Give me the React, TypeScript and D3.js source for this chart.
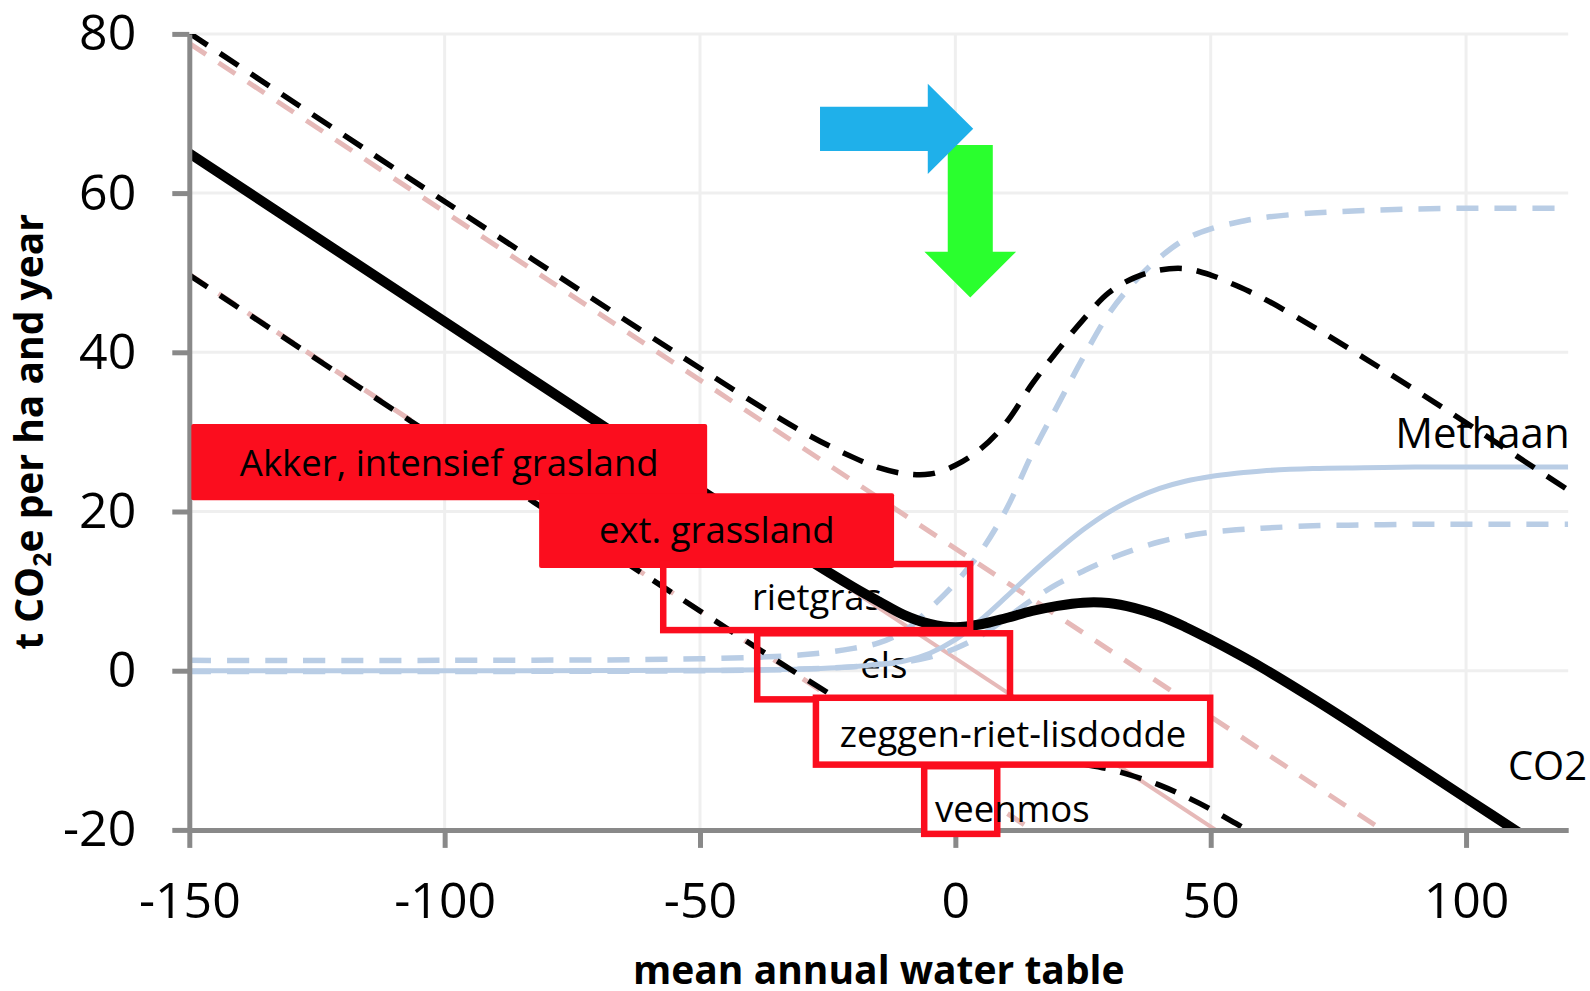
import React, { useEffect, useRef } from 'react';
import * as d3 from 'd3';

// water table positions (cm) at which the curves were read
const waterTable = [-150, -100, -50, -30, -20, -15, -10, -5, 0, 5, 10, 15, 20, 25, 30, 35, 40, 45, 50, 55, 60, 70, 80, 90, 100, 110, 120];

// methane (light blue)
const methaneMean = [0, 0, 0.05, 0.2, 0.5, 0.8, 1.2, 2.2, 3.9, 6.4, 9.3, 12.3, 15.1, 17.7, 19.9, 21.6, 22.9, 23.8, 24.4, 24.8, 25.1, 25.4, 25.5, 25.6, 25.6, 25.6, 25.6];
const methaneHigh = [1.3, 1.3, 1.5, 2.0, 2.8, 3.5, 5.0, 7.8, 11.0, 15.0, 20.3, 27.2, 33.3, 39.3, 44.8, 48.8, 51.9, 54.2, 55.5, 56.3, 56.9, 57.5, 57.8, 58.0, 58.1, 58.1, 58.1];
const methaneLow = [-0.1, -0.1, 0, 0.2, 0.5, 0.8, 1.1, 1.7, 2.8, 4.4, 6.6, 8.9, 10.9, 12.5, 14.0, 15.2, 16.2, 16.9, 17.4, 17.7, 17.9, 18.2, 18.3, 18.4, 18.4, 18.4, 18.4];

// total emissions (black)
const totalMean = [65.0, 43.85, 22.75, 14.44, 10.51, 8.7, 6.98, 5.87, 5.45, 5.83, 6.62, 7.5, 8.15, 8.55, 8.5, 7.9, 6.9, 5.5, 3.9, 2.2, 0.4, -3.5, -7.6, -11.8, -16.0, -20.2, -24.4];
const totalHigh = [80.1, 58.95, 38.0, 30.04, 26.8, 25.5, 24.75, 24.7, 25.8, 27.9, 31.2, 36.0, 40.19, 44.08, 47.46, 49.35, 50.33, 50.51, 49.7, 48.38, 46.87, 43.24, 39.31, 35.28, 31.15, 26.92, 22.69];
const totalLow = [49.7, 28.55, 7.5, -0.76, -4.69, -6.5, -8.32, -9.83, -10.85, -11.37, -11.28, -11.1, -11.21, -11.73, -12.34, -13.26, -14.37, -15.79, -17.4, -19.22, -21.13, -25.06, -29.19, -33.32, -37.55, -41.78, -46.01];

// CO2 (pink), straight lines
const co2Ends = [-150, 120];
const co2Mean = [65.0, -49.2];
const co2High = [78.8, -35.4];
const co2Low = [49.8, -64.4];

const xTicks = [-150, -100, -50, 0, 50, 100];
const yTicks = [-20, 0, 20, 40, 60, 80];

const habitats = ['Akker, intensief grasland', 'ext. grassland', 'rietgras', 'els', 'zeggen-riet-lisdodde', 'veenmos'];

const W = 1590;
const H = 991;
const RED = '#fb0d1e';
const PINK = '#e6b9b8';
const BLUE = '#b9cde5';
const GREY = '#898989';
const FONT = "'Open Sans', sans-serif";

export default function App() {
    const svgRef = useRef<SVGSVGElement>(null);

    useEffect(() => {
        if (!svgRef.current) return;
        const svg = d3.select(svgRef.current);
        svg.selectAll('*').remove();

        const x = d3.scaleLinear().domain([-150, 120]).range([189.3, 1568.2]);
        const y = d3.scaleLinear().domain([-20, 80]).range([829.9, 33.9]);

        svg.append('rect').attr('width', W).attr('height', H).attr('fill', '#fff');

        svg.append('defs').append('clipPath').attr('id', 'plot')
            .append('rect')
            .attr('x', x(-150)).attr('y', y(80))
            .attr('width', x(120) - x(-150)).attr('height', y(-20) - y(80));

        // gridlines
        const grid = svg.append('g').attr('stroke', '#efefef').attr('stroke-width', 3);
        grid.selectAll('line.h').data(yTicks.filter(d => d > -20)).join('line')
            .attr('class', 'h')
            .attr('x1', x(-150)).attr('x2', x(120))
            .attr('y1', d => y(d)).attr('y2', d => y(d));
        grid.selectAll('line.v').data(xTicks.filter(d => d > -150)).join('line')
            .attr('class', 'v')
            .attr('x1', d => x(d)).attr('x2', d => x(d))
            .attr('y1', y(80)).attr('y2', y(-20));

        // annotation boxes (data units); kind: filled red, see-through outline, or white outline
        const boxes = [
            { i: 0, x0: -149.6, x1: -48.6, y0: 31.0, y1: 21.4, kind: 'fill', tx: -99.1, ty: 24.46, anchor: 'middle' },
            { i: 1, x0: -81.5, x1: -12.0, y0: 22.3, y1: 12.9, kind: 'fill', tx: -46.7, ty: 16.04, anchor: 'middle' },
            { i: 2, x0: -57.2, x1: 2.9, y0: 13.4, y1: 5.1, kind: 'open', tx: -27.1, ty: 7.63, anchor: 'middle' },
            { i: 3, x0: -38.8, x1: 10.7, y0: 4.7, y1: -3.6, kind: 'open', tx: -14.0, ty: -0.92, anchor: 'middle' },
            { i: 4, x0: -27.3, x1: 49.9, y0: -3.4, y1: -11.8, kind: 'white', tx: 11.3, ty: -9.6, anchor: 'middle' },
            { i: 5, x0: -6.1, x1: 8.2, y0: -12.0, y1: -20.5, kind: 'white', tx: -4.0, ty: -19.0, anchor: 'start' },
        ];
        const open = boxes.filter(b => b.kind === 'open');
        const white = boxes.filter(b => b.kind === 'white');
        const filled = boxes.filter(b => b.kind === 'fill');

        // labels that sit under the curves
        svg.append('g').selectAll('text').data(open).join('text')
            .attr('x', b => x(b.tx)).attr('y', b => y(b.ty))
            .attr('text-anchor', b => b.anchor)
            .attr('font-family', FONT).attr('font-size', 36.5).attr('fill', '#000')
            .text(b => habitats[b.i]);

        svg.append('text').attr('x', x(120.3)).attr('y', y(27.98))
            .attr('text-anchor', 'end').attr('font-family', FONT).attr('font-size', 42)
            .text('Methaan');
        svg.append('text').attr('x', x(108.2)).attr('y', y(-13.73))
            .attr('font-family', FONT).attr('font-size', 40)
            .text('CO2');

        // curves
        const plot = svg.append('g').attr('clip-path', 'url(#plot)').attr('fill', 'none');
        const curve = d3.line<number>()
            .x((_, i) => x(waterTable[i]))
            .y(d => y(d))
            .curve(d3.curveCatmullRom.alpha(0.5));
        const straight = d3.line<number>()
            .x((_, i) => x(co2Ends[i]))
            .y(d => y(d));

        plot.append('path').attr('d', straight(co2Low)).attr('stroke', PINK).attr('stroke-width', 5).attr('stroke-dasharray', '20 15');
        plot.append('path').attr('d', straight(co2High)).attr('stroke', PINK).attr('stroke-width', 5).attr('stroke-dasharray', '20 15');
        plot.append('path').attr('d', straight(co2Mean)).attr('stroke', PINK).attr('stroke-width', 4);

        plot.append('path').attr('d', curve(methaneLow)).attr('stroke', BLUE).attr('stroke-width', 5.5).attr('stroke-dasharray', '22 16');
        plot.append('path').attr('d', curve(methaneHigh)).attr('stroke', BLUE).attr('stroke-width', 5.5).attr('stroke-dasharray', '22 16');
        plot.append('path').attr('d', curve(methaneMean)).attr('stroke', BLUE).attr('stroke-width', 5);

        plot.append('path').attr('d', curve(totalLow)).attr('stroke', '#000').attr('stroke-width', 5.5).attr('stroke-dasharray', '22 15');
        plot.append('path').attr('d', curve(totalHigh)).attr('stroke', '#000').attr('stroke-width', 5.5).attr('stroke-dasharray', '22 15');
        plot.append('path').attr('d', curve(totalMean)).attr('stroke', '#000').attr('stroke-width', 10);

        // axes
        const yAxis = svg.append('g')
            .attr('transform', `translate(${x(-150)},0)`)
            .call(d3.axisLeft(y).tickValues(yTicks).tickSize(17).tickSizeOuter(0).tickPadding(36).tickFormat(d => String(d)));
        const xAxis = svg.append('g')
            .attr('transform', `translate(0,${y(-20)})`)
            .call(d3.axisBottom(x).tickValues(xTicks).tickSize(18).tickSizeOuter(0).tickPadding(35).tickFormat(d => String(d)));
        [yAxis, xAxis].forEach(a => {
            a.attr('font-family', FONT).attr('font-size', 50);
            a.select('.domain').attr('stroke', GREY).attr('stroke-width', 5);
            a.selectAll('.tick line').attr('stroke', GREY).attr('stroke-width', 5);
            a.selectAll('.tick text').attr('fill', '#000');
        });

        // filled boxes
        const fg = svg.append('g');
        fg.selectAll('rect').data(filled).join('rect')
            .attr('x', b => x(b.x0)).attr('y', b => y(b.y0))
            .attr('width', b => x(b.x1) - x(b.x0)).attr('height', b => y(b.y1) - y(b.y0))
            .attr('rx', 2)
            .attr('fill', RED);
        fg.selectAll('text').data(filled).join('text')
            .attr('x', b => x(b.tx)).attr('y', b => y(b.ty))
            .attr('text-anchor', 'middle')
            .attr('font-family', FONT).attr('font-size', 36.5).attr('fill', '#000')
            .text(b => habitats[b.i]);

        // outlined boxes
        svg.append('g').selectAll('rect').data(open).join('rect')
            .attr('x', b => x(b.x0)).attr('y', b => y(b.y0))
            .attr('width', b => x(b.x1) - x(b.x0)).attr('height', b => y(b.y1) - y(b.y0))
            .attr('fill', 'none').attr('stroke', RED).attr('stroke-width', 6.5);

        // white-backed outlined boxes with their labels
        white.forEach(b => {
            svg.append('rect')
                .attr('x', x(b.x0)).attr('y', y(b.y0))
                .attr('width', x(b.x1) - x(b.x0)).attr('height', y(b.y1) - y(b.y0))
                .attr('fill', '#fff').attr('stroke', RED).attr('stroke-width', 6.5);
            svg.append('text')
                .attr('x', x(b.tx)).attr('y', y(b.ty))
                .attr('text-anchor', b.anchor)
                .attr('font-family', FONT).attr('font-size', 36.5).attr('fill', '#000')
                .text(habitats[b.i]);
        });

        // arrows
        const g = { at: 2.92, from: 66.04, headStart: 52.64, to: 46.9, shaft: 4.41, head: 8.98 };
        const greenPts: [number, number][] = [
            [x(g.at - g.shaft), y(g.from)], [x(g.at + g.shaft), y(g.from)],
            [x(g.at + g.shaft), y(g.headStart)], [x(g.at + g.head), y(g.headStart)],
            [x(g.at), y(g.to)],
            [x(g.at - g.head), y(g.headStart)], [x(g.at - g.shaft), y(g.headStart)],
        ];
        svg.append('polygon').attr('points', greenPts.map(p => p.join(',')).join(' ')).attr('fill', '#2aff2e');

        const b = { level: 68.07, from: -26.5, headStart: -5.4, to: 3.5, shaft: 2.78, head: 5.67 };
        const bluePts: [number, number][] = [
            [x(b.from), y(b.level + b.shaft)], [x(b.headStart), y(b.level + b.shaft)],
            [x(b.headStart), y(b.level + b.head)], [x(b.to), y(b.level)],
            [x(b.headStart), y(b.level - b.head)], [x(b.headStart), y(b.level - b.shaft)],
            [x(b.from), y(b.level - b.shaft)],
        ];
        svg.append('polygon').attr('points', bluePts.map(p => p.join(',')).join(' ')).attr('fill', '#1fb0ea');

        // axis titles
        svg.append('text')
            .attr('x', (x(-150) + x(120)) / 2).attr('y', 984)
            .attr('text-anchor', 'middle')
            .attr('font-family', FONT).attr('font-weight', 700).attr('font-size', 39)
            .text('mean annual water table');

        const yt = svg.append('text')
            .attr('transform', `translate(43,${(y(80) + y(-20)) / 2}) rotate(-90)`)
            .attr('text-anchor', 'middle')
            .attr('font-family', FONT).attr('font-weight', 700).attr('font-size', 39);
        yt.append('tspan').text('t CO');
        yt.append('tspan').attr('font-size', 25).attr('dy', 8).text('2');
        yt.append('tspan').attr('dy', -8).text('e per ha and year');
    }, []);

    return (
        <svg ref={svgRef} width={W} height={H} viewBox={`0 0 ${W} ${H}`}
            style={{ position: 'absolute', left: 0, top: 0, display: 'block' }} />
    );
}
